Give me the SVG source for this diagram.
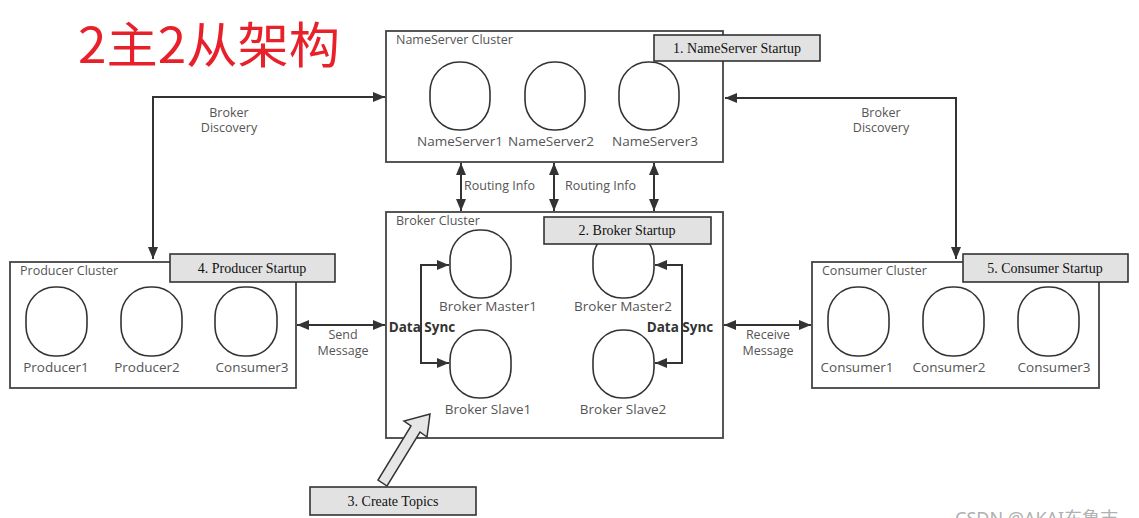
<svg xmlns="http://www.w3.org/2000/svg" width="1139" height="518" viewBox="0 0 1139 518">
<style>
.cluster{fill:#fff;stroke:#444;stroke-width:1.8}
.node{fill:#fff;stroke:#333;stroke-width:1.6}
.startup{fill:#e2e2e2;stroke:#333;stroke-width:1.6}
.st{font-family:"Liberation Serif",serif;font-size:14px;fill:#111;text-anchor:middle}
.lbl{font-family:"Open Sans","DejaVu Sans",sans-serif;font-size:12.5px;fill:#555}
.nl{font-family:"Open Sans","DejaVu Sans",sans-serif;font-size:13.5px;fill:#555;text-anchor:middle}
.cl{font-family:"Open Sans","DejaVu Sans",sans-serif;font-size:12.5px;fill:#555;text-anchor:middle}
.ds{font-family:"Open Sans","DejaVu Sans",sans-serif;font-size:13.5px;font-weight:bold;fill:#333;text-anchor:middle}
.conn{fill:none;stroke:#333;stroke-width:2;marker-end:url(#ah)}
.conn2{fill:none;stroke:#333;stroke-width:2;marker-start:url(#ahs);marker-end:url(#ah)}
</style>
<defs>
<marker id="ah" viewBox="0 0 12 10" refX="12" refY="5" markerWidth="12" markerHeight="10" markerUnits="userSpaceOnUse" orient="auto"><path d="M0,0 L12,5 L0,10 Z" fill="#333"/></marker>
<marker id="ahs" viewBox="0 0 12 10" refX="0" refY="5" markerWidth="12" markerHeight="10" markerUnits="userSpaceOnUse" orient="auto"><path d="M12,0 L0,5 L12,10 Z" fill="#333"/></marker>
</defs>
<rect width="1139" height="518" fill="#fff"/>

<text x="78" y="63" font-family="'Noto Sans CJK SC',sans-serif" font-size="49" fill="#e8202a" textLength="262" lengthAdjust="spacingAndGlyphs">2主2从架构</text>

<g id="nameserver-cluster">
<rect class="cluster" x="386" y="31" width="337" height="131"/>
<text class="lbl" x="396" y="44">NameServer Cluster</text>
<rect class="node" x="430" y="62" width="60" height="68" rx="29" ry="30"/>
<rect class="node" x="525" y="62" width="60" height="68" rx="29" ry="30"/>
<rect class="node" x="619" y="62" width="60" height="68" rx="29" ry="30"/>
<text class="nl" x="460" y="146">NameServer1</text>
<text class="nl" x="551" y="146">NameServer2</text>
<text class="nl" x="655" y="146">NameServer3</text>
</g>
<g id="nameserver-startup">
<rect class="startup" x="654" y="35" width="166" height="26"/>
<text class="st" x="737" y="53">1. NameServer Startup</text>
</g>

<g id="broker-cluster">
<rect class="cluster" x="386" y="212" width="337" height="226"/>
<text class="lbl" x="396" y="225">Broker Cluster</text>
<rect class="node" x="450" y="230" width="61" height="68" rx="29" ry="30"/>
<rect class="node" x="593" y="230" width="61" height="68" rx="29" ry="30"/>
<rect class="node" x="450" y="330" width="61" height="68" rx="29" ry="30"/>
<rect class="node" x="593" y="330" width="61" height="68" rx="29" ry="30"/>
<text class="nl" x="488" y="311">Broker Master1</text>
<text class="nl" x="623" y="311">Broker Master2</text>
<text class="nl" x="488" y="414">Broker Slave1</text>
<text class="nl" x="623" y="414">Broker Slave2</text>
</g>
<g id="broker-startup">
<rect class="startup" x="544" y="217" width="167" height="27"/>
<text class="st" x="627" y="235">2. Broker Startup</text>
</g>

<g id="producer-cluster">
<rect class="cluster" x="10" y="262" width="286" height="126"/>
<text class="lbl" x="20" y="275">Producer Cluster</text>
<rect class="node" x="26" y="287" width="61" height="69" rx="29" ry="30"/>
<rect class="node" x="121" y="287" width="61" height="69" rx="29" ry="30"/>
<rect class="node" x="215" y="287" width="62" height="69" rx="29" ry="30"/>
<text class="nl" x="56" y="372">Producer1</text>
<text class="nl" x="147" y="372">Producer2</text>
<text class="nl" x="252" y="372">Consumer3</text>
</g>
<g id="producer-startup">
<rect class="startup" x="170" y="254" width="165" height="28"/>
<text class="st" x="252" y="273">4. Producer Startup</text>
</g>

<g id="consumer-cluster">
<rect class="cluster" x="812" y="262" width="287" height="126"/>
<text class="lbl" x="822" y="275">Consumer Cluster</text>
<rect class="node" x="828" y="287" width="61" height="69" rx="29" ry="30"/>
<rect class="node" x="923" y="287" width="61" height="69" rx="29" ry="30"/>
<rect class="node" x="1018" y="287" width="61" height="69" rx="29" ry="30"/>
<text class="nl" x="857" y="372">Consumer1</text>
<text class="nl" x="949" y="372">Consumer2</text>
<text class="nl" x="1054" y="372">Consumer3</text>
</g>
<g id="consumer-startup">
<rect class="startup" x="963" y="254" width="165" height="28"/>
<text class="st" x="1045" y="273">5. Consumer Startup</text>
</g>

<g id="create-topics">
<path d="M430,414 L427,437 L420,432 L387,486 L378,480 L411,426 L404,421 Z" fill="#e6e6e6" stroke="#333" stroke-width="1.5" stroke-linejoin="miter"/>
<rect class="startup" x="310" y="487" width="166" height="28"/>
<text class="st" x="393" y="506">3. Create Topics</text>
</g>

<g id="connectors">
<path class="conn2" d="M153,259 L153,97 L385,97"/>
<path class="conn2" d="M956,259 L956,98 L725,98"/>
<path class="conn2" d="M461,163 L461,211"/>
<path class="conn2" d="M554,163 L554,211"/>
<path class="conn2" d="M654,163 L654,211"/>
<path class="conn2" d="M297,325 L385,325"/>
<path class="conn2" d="M724,325 L811,325"/>
<path class="conn2" d="M449,265 L421,265 L421,363 L449,363"/>
<path class="conn2" d="M655,265 L682,265 L682,363 L655,363"/>
<text class="cl" x="229" y="117">Broker</text>
<text class="cl" x="229" y="132">Discovery</text>
<text class="cl" x="881" y="117">Broker</text>
<text class="cl" x="881" y="132">Discovery</text>
<text class="lbl" x="464" y="190">Routing Info</text>
<text class="lbl" x="565" y="190">Routing Info</text>
<text class="cl" x="343" y="339">Send</text>
<text class="cl" x="343" y="355">Message</text>
<text class="cl" x="768" y="339">Receive</text>
<text class="cl" x="768" y="355">Message</text>
<text class="ds" x="422" y="332">Data Sync</text>
<text class="ds" x="680" y="332">Data Sync</text>
</g>

<text x="955" y="525" font-family="'Noto Sans','Noto Sans CJK SC',sans-serif" font-size="18" fill="#b0b0b0">CSDN @AKAI东鲁志</text>
</svg>
